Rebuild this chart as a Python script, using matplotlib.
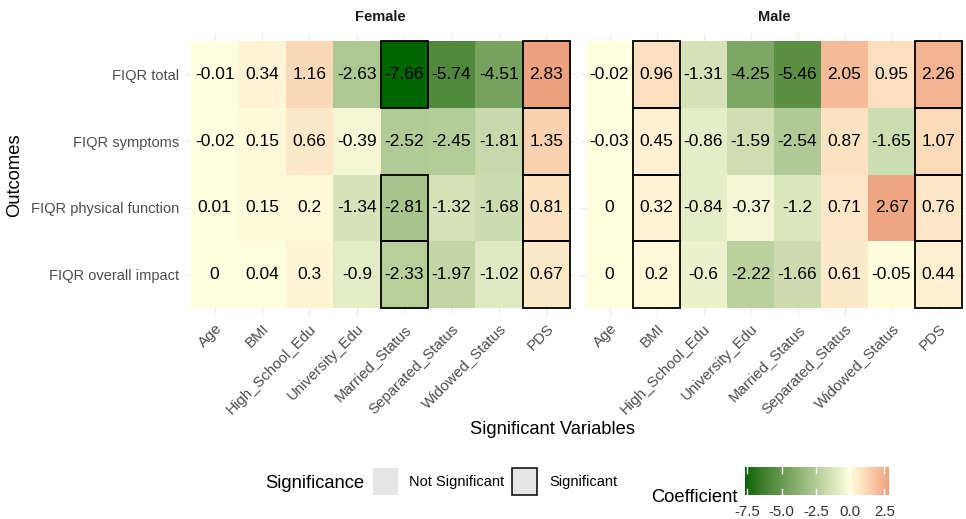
import numpy as np
import matplotlib
matplotlib.use("Agg")
import matplotlib.pyplot as plt
from matplotlib.colors import ListedColormap, Normalize, to_rgb
from matplotlib.patches import Rectangle
import matplotlib.cm as cm

plt.rcParams['font.family'] = ['Liberation Sans', 'DejaVu Sans']

# data
outcomes = ['FIQR total', 'FIQR symptoms', 'FIQR physical function', 'FIQR overall impact']
variables = ['Age', 'BMI', 'High_School_Edu', 'University_Edu', 'Married_Status',
             'Separated_Status', 'Widowed_Status', 'PDS']

female_coef = [[-0.01, 0.34, 1.16, -2.63, -7.66, -5.74, -4.51, 2.83],
               [-0.02, 0.15, 0.66, -0.39, -2.52, -2.45, -1.81, 1.35],
               [0.01, 0.15, 0.2, -1.34, -2.81, -1.32, -1.68, 0.81],
               [0, 0.04, 0.3, -0.9, -2.33, -1.97, -1.02, 0.67]]
male_coef = [[-0.02, 0.96, -1.31, -4.25, -5.46, 2.05, 0.95, 2.26],
             [-0.03, 0.45, -0.86, -1.59, -2.54, 0.87, -1.65, 1.07],
             [0, 0.32, -0.84, -0.37, -1.2, 0.71, 2.67, 0.76],
             [0, 0.2, -0.6, -2.22, -1.66, 0.61, -0.05, 0.44]]

# 1 = significant (black border)
female_sig = [[0, 0, 0, 0, 1, 0, 0, 1],
              [0, 0, 0, 0, 0, 0, 0, 1],
              [0, 0, 0, 0, 1, 0, 0, 1],
              [0, 0, 0, 0, 1, 0, 0, 1]]
male_sig = [[0, 1, 0, 0, 0, 0, 0, 1],
            [0, 1, 0, 0, 0, 0, 0, 1],
            [0, 1, 0, 0, 0, 0, 0, 1],
            [0, 1, 0, 0, 0, 0, 0, 1]]

cbar_ticks = [-7.5, -5.0, -2.5, 0.0, 2.5]

# colour scale: Lab interpolation like ggplot's gradient2
M = np.array([[0.4124, 0.3576, 0.1805], [0.2126, 0.7152, 0.0722], [0.0193, 0.1192, 0.9505]])
WHITE = np.array([0.95047, 1.0, 1.08883])


def to_lab(col):
    rgb = np.array(to_rgb(col))
    lin = np.where(rgb <= 0.04045, rgb / 12.92, ((rgb + 0.055) / 1.055) ** 2.4)
    xyz = M @ lin / WHITE
    f = np.where(xyz > 0.008856, np.cbrt(xyz), 7.787 * xyz + 16 / 116)
    return np.array([116 * f[1] - 16, 500 * (f[0] - f[1]), 200 * (f[1] - f[2])])


def from_lab(lab):
    fy = (lab[0] + 16) / 116
    f = np.array([fy + lab[1] / 500, fy, fy - lab[2] / 200])
    xyz = np.where(f ** 3 > 0.008856, f ** 3, (f - 16 / 116) / 7.787) * WHITE
    lin = np.clip(np.linalg.solve(M, xyz), 0, None)
    rgb = np.where(lin <= 0.0031308, 12.92 * lin, 1.055 * lin ** (1 / 2.4) - 0.055)
    return np.clip(rgb, 0, 1)


allv = np.array(female_coef + male_coef)
vmin, vmax = allv.min(), allv.max()
low, mid, high = to_lab('#006400'), to_lab('#FFFFE0'), to_lab('#EEA17E')
cols = []
for v in np.linspace(vmin, vmax, 512):
    if v < 0:
        lab = mid + (v / vmin) * (low - mid)
    else:
        lab = mid + (v / vmax) * (high - mid)
    cols.append(from_lab(lab))
cmap = ListedColormap(cols)
norm = Normalize(vmin=vmin, vmax=vmax)

W, H = 966, 519
fig = plt.figure(figsize=(W / 100, H / 100), dpi=100)


def box(x0, y0, x1, y1):
    return [x0 / W, 1 - y1 / H, (x1 - x0) / W, (y1 - y0) / H]


def panel(tx0, tx1, coef, sig, title, show_y):
    ty0, ty1 = 41, 308
    cw = (tx1 - tx0) / 8
    rh = (ty1 - ty0) / 4
    ax = fig.add_axes(box(tx0 - 0.1 * cw, ty0 - 0.1 * rh, tx1 + 0.1 * cw, ty1 + 0.1 * rh))
    ax.set_xlim(-0.6, 7.6)
    ax.set_ylim(3.6, -0.6)
    for i in range(8):
        ax.axvline(i, color='#EBEBEB', lw=0.9, zorder=0)
    for i in range(4):
        ax.axhline(i, color='#EBEBEB', lw=0.9, zorder=0)
    ax.pcolormesh(np.arange(9) - 0.5, np.arange(5) - 0.5, np.array(coef),
                  cmap=cmap, norm=norm, zorder=1)
    for i in range(4):
        for j in range(8):
            ax.text(j, i, f"{coef[i][j]:g}", ha='center', va='center', fontsize=12.5, zorder=4)
            if sig[i][j]:
                ax.add_patch(Rectangle((j - 0.5, i - 0.5), 1, 1, fill=False, ec='black',
                                       lw=1.3, zorder=3, clip_on=False))
    for s in ax.spines.values():
        s.set_visible(False)
    ax.set_xticks(range(8))
    ax.set_xticklabels(variables, rotation=45, ha='right', va='top', rotation_mode='anchor',
                       fontsize=10.8, color='#4D4D4D')
    ax.set_yticks(range(4))
    if show_y:
        ax.set_yticklabels(outcomes, fontsize=10.5, color='#4D4D4D')
    else:
        ax.set_yticklabels([])
    ax.tick_params(length=0, pad=5)
    fig.text(((tx0 + tx1) / 2) / W, 1 - 17 / H, title, ha='center', va='center',
             fontsize=10.5, fontweight='bold', color='#1A1A1A')
    return ax


panel(191, 570, female_coef, female_sig, 'Female', True)
panel(586, 962, male_coef, male_sig, 'Male', False)

fig.text(15 / W, 1 - 175 / H, 'Outcomes', rotation=90, ha='center', va='center', fontsize=13.2)
fig.text(552 / W, 1 - 430 / H, 'Significant Variables', ha='center', va='center', fontsize=13.2)

# significance legend
fig.text(265 / W, 1 - 483 / H, 'Significance', ha='left', va='center', fontsize=13.2)
fig.add_artist(Rectangle((373 / W, 1 - 495 / H), 25 / W, 27 / H, transform=fig.transFigure,
                         fc='#E5E5E5', ec='none'))
fig.text(409 / W, 1 - 482 / H, 'Not Significant', ha='left', va='center', fontsize=10.5)
fig.add_artist(Rectangle((512 / W, 1 - 495 / H), 25 / W, 27 / H, transform=fig.transFigure,
                         fc='#E5E5E5', ec='black', lw=1.1))
fig.text(549 / W, 1 - 482 / H, 'Significant', ha='left', va='center', fontsize=10.5)

# colour bar
fig.text(738 / W, 1 - 502 / H, 'Coefficient', ha='right', va='baseline', fontsize=13.2)
cax = fig.add_axes(box(745, 467, 889, 495))
sm = cm.ScalarMappable(norm=norm, cmap=cmap)
cb = fig.colorbar(sm, cax=cax, orientation='horizontal')
cb.outline.set_visible(False)
cb.set_ticks(cbar_ticks)
cb.set_ticklabels([f"{t:.1f}" for t in cbar_ticks])
cax.tick_params(length=0, pad=7, labelsize=10.8, labelcolor='#333333')
for t in cbar_ticks:
    cax.axvline(t, ymin=0, ymax=0.2, color='white', lw=1)
    cax.axvline(t, ymin=0.8, ymax=1, color='white', lw=1)

fig.savefig('out.png', dpi=100, facecolor='white')
